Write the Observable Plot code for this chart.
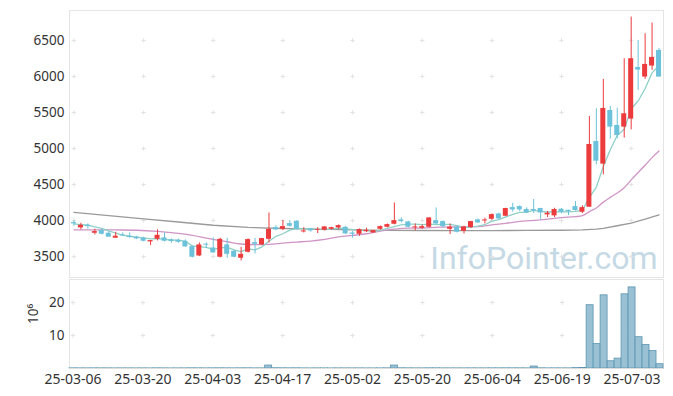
<!DOCTYPE html>
<html><head><meta charset="utf-8">
<script src="https://cdn.jsdelivr.net/npm/d3@7"></script>
<script src="https://cdn.jsdelivr.net/npm/@observablehq/plot@0.6"></script>
<style>
body{margin:0;background:#fff;}
#chart{width:673px;height:396px;overflow:hidden;}
#chart svg{display:block;}
</style></head><body><div id="chart"></div>
<script>
const dates = ["2025-03-06","2025-03-07","2025-03-10","2025-03-11","2025-03-12","2025-03-13","2025-03-14","2025-03-17","2025-03-18","2025-03-19",
"2025-03-20","2025-03-21","2025-03-24","2025-03-25","2025-03-26","2025-03-27","2025-03-28","2025-03-31","2025-04-01","2025-04-02",
"2025-04-03","2025-04-04","2025-04-07","2025-04-08","2025-04-09","2025-04-10","2025-04-11","2025-04-14","2025-04-15","2025-04-16",
"2025-04-17","2025-04-18","2025-04-21","2025-04-22","2025-04-23","2025-04-24","2025-04-25","2025-04-28","2025-04-29","2025-04-30",
"2025-05-02","2025-05-07","2025-05-08","2025-05-09","2025-05-12","2025-05-13","2025-05-14","2025-05-15","2025-05-16","2025-05-19",
"2025-05-20","2025-05-21","2025-05-22","2025-05-23","2025-05-26","2025-05-27","2025-05-28","2025-05-29","2025-05-30","2025-06-02",
"2025-06-04","2025-06-05","2025-06-09","2025-06-10","2025-06-11","2025-06-12","2025-06-13","2025-06-16","2025-06-17","2025-06-18",
"2025-06-19","2025-06-20","2025-06-23","2025-06-24","2025-06-25","2025-06-26","2025-06-27","2025-06-30","2025-07-01","2025-07-02",
"2025-07-03","2025-07-04","2025-07-07","2025-07-08","2025-07-09"];

const open = [3972,3898,3935,3824,3861,3824,3755,3801,3783,3769,
3755,3704,3741,3760,3732,3727,3713,3639,3509,3672,
3620,3491,3662,3574,3477,3560,3694,3662,3740,3902,
3879,3958,3990,3842,3884,3865,3865,3879,3898,3907,
3828,3810,3847,3828,3879,3907,3949,4009,3981,3898,
3893,3907,3999,3986,3879,3907,3852,3903,4009,3995,
4018,4092,4060,4180,4194,4153,4153,4167,4079,4065,
4157,4143,4194,4116,4185,5097,4783,5528,5320,5297,
5408,6125,5991,6144,6361];

const high = [4000,3963,3954,3880,3884,3847,3838,3829,3829,3783,
3769,3722,3871,3829,3746,3741,3732,3648,3690,3690,
3760,3754,3754,3583,3629,3745,3754,3754,4106,3930,
4000,4000,4000,3902,3893,3902,3916,3907,3940,3916,
3847,3884,3893,3861,3926,3953,4245,4037,3990,3953,
3940,4037,4176,3995,3953,3930,3921,3990,4023,4032,
4092,4102,4171,4241,4204,4176,4292,4171,4125,4171,
4167,4143,4264,4204,5445,5551,5959,5584,5560,6246,
6824,6500,6593,6741,6389];

const low = [3921,3871,3880,3801,3801,3769,3755,3778,3755,3736,
3704,3653,3718,3704,3685,3685,3630,3482,3500,3611,
3547,3481,3477,3481,3440,3551,3537,3653,3690,3861,
3861,3907,3870,3828,3838,3819,3856,3865,3879,3805,
3754,3782,3833,3824,3865,3898,3940,3967,3898,3856,
3879,3898,3944,3898,3805,3828,3815,3889,3958,3953,
4004,4014,4055,4116,4125,4097,4097,4009,4042,4042,
4092,4069,4130,4097,4185,4773,4634,5130,5134,5144,
5259,5806,5959,6084,5991];

const close = [3954,3935,3917,3847,3810,3769,3783,3787,3764,3746,
3713,3722,3796,3713,3709,3699,3634,3491,3662,3658,
3551,3740,3532,3491,3532,3736,3671,3750,3879,3870,
3916,3921,3879,3856,3856,3875,3912,3902,3930,3815,
3810,3875,3865,3861,3916,3944,3999,3986,3907,3912,
3916,4037,3953,3916,3907,3838,3912,3986,3967,4009,
4083,4023,4167,4148,4148,4106,4134,4106,4102,4153,
4116,4125,4139,4180,5056,4824,5556,5297,5181,5482,
6246,6088,6167,6264,5991];

// volume in millions of shares
const volume = [0.05,0.04,0.04,0.05,0.04,0.04,0.03,0.04,0.04,0.03,
0.04,0.03,0.05,0.04,0.03,0.03,0.04,0.06,0.05,0.04,
0.05,0.06,0.05,0.04,0.05,0.06,0.04,0.04,0.9,0.08,
0.06,0.05,0.06,0.04,0.03,0.04,0.04,0.03,0.04,0.04,
0.04,0.04,0.03,0.03,0.04,0.05,0.9,0.07,0.05,0.04,
0.04,0.06,0.06,0.04,0.04,0.04,0.04,0.05,0.04,0.04,
0.05,0.05,0.06,0.05,0.05,0.04,0.6,0.06,0.04,0.05,
0.04,0.04,0.12,0.15,19.2,7.4,22.2,2.2,3.0,22.5,
24.6,9.5,7.1,5.3,1.3];

// 20-day moving average (pink), read at these trading-day positions
const ma20Pos = [0,3,6,9,12,15,17,19,22,24,26,28,30,32,34,36,38,40,42,44,46,48,50,52,54,56,58,60,62,64,66,68,70,72,73,74,75,76,77,78,79,80,81,82,83,84];
const ma20Val = [3872,3872,3870,3866,3850,3822,3795,3755,3706,3675,3667,3671,3688,3702,3716,3739,3773,3794,3817,3855,3882,3895,3897,3906,3912,3910,3916,3939,3962,3988,4003,4019,4041,4054,4067,4125,4174,4256,4322,4383,4456,4564,4668,4768,4874,4966];

// long moving average (gray), read at these positions
const maLongPos = [0,5,10,15,20,25,30,35,40,45,50,55,60,65,70,73,75,76,78,80,82,84];
const maLongVal = [4113,4068,4023,3980,3935,3905,3890,3882,3872,3865,3862,3861,3861,3863,3866,3870,3880,3892,3928,3965,4020,4080];

const priceTicks = [3500,4000,4500,5000,5500,6000,6500];
const volTicks = [10,20];
const xTickPos = [0,10,20,30,40,50,60,70,80];

const UP = "#ec3b3d", DOWN = "#6cc2da";
const FONT = "'Noto Sans', sans-serif";

const candles = dates.map((d,i)=>({date:d, open:open[i], high:high[i], low:low[i], close:close[i], vol:volume[i]}));
const ma20 = ma20Pos.map((p,i)=>({date:dates[p], v:ma20Val[i]}));
const maLong = maLongPos.map((p,i)=>({date:dates[p], v:maLongVal[i]}));
const xTickDates = xTickPos.map(p=>dates[p]);
const gridPrice = xTickDates.flatMap(d=>priceTicks.map(v=>({date:d, v})));
const gridVol = xTickDates.flatMap(d=>volTicks.map(v=>({date:d, v})));
const col = d => d.close >= d.open ? UP : DOWN;

const price = Plot.plot({
  width: 673, height: 278,
  marginLeft: 69, marginRight: 10, marginTop: 10, marginBottom: 1,
  style: {fontFamily: FONT, fontSize: "13.5px", color: "#333", background: "white"},
  x: {type: "band", domain: dates, padding: 0.28, axis: null},
  y: {domain: [3210, 6915], ticks: priceTicks, tickFormat: d => String(d), tickSize: 0, tickPadding: 5, label: null},
  marks: [
    Plot.frame({stroke: "#e4e4e4"}),
    Plot.text(["InfoPointer.com"], {text: d=>d, frameAnchor: "bottom-right", dx: -6, dy: -9, fontSize: 32, fill: "#c5d9e5", fontFamily: "Roboto", fontWeight: 400}),
    Plot.dot(gridPrice, {x: "date", y: "v", symbol: "plus", r: 1.5, stroke: "#e2e2e2", strokeWidth: 1}),
    Plot.line(maLong, {x: "date", y: "v", stroke: "#9a9a9a", strokeWidth: 1.3}),
    Plot.line(ma20, {x: "date", y: "v", stroke: "#d095c6", strokeWidth: 1.3, curve: "monotone-x"}),
    Plot.lineY(candles, Plot.windowY({k: 5, anchor: "end"}, {x: "date", y: "close", stroke: "#8fd0c7", strokeWidth: 1.3})),
    Plot.ruleX(candles, {x: "date", y1: "low", y2: "high", stroke: col, strokeWidth: 1}),
    Plot.barY(candles, {x: "date", y1: "open", y2: "close", fill: col})
  ]
});

const vol = Plot.plot({
  width: 673, height: 118,
  marginLeft: 69, marginRight: 10, marginTop: 1, marginBottom: 28,
  style: {fontFamily: FONT, fontSize: "13.5px", color: "#333", background: "white"},
  x: {type: "band", domain: dates, padding: 0, ticks: xTickDates, tickFormat: d => d.slice(2), tickSize: 0, tickPadding: 6, label: null},
  y: {domain: [0, 27], ticks: volTicks, tickSize: 0, tickPadding: 5, label: null},
  marks: [
    Plot.frame({stroke: "#e4e4e4"}),
    Plot.dot(gridVol, {x: "date", y: "v", symbol: "plus", r: 1.5, stroke: "#e2e2e2", strokeWidth: 1}),
    Plot.barY(candles, {x: "date", y: "vol", fill: "#93bed1", fillOpacity: 0.95, stroke: "#5b95b2", strokeWidth: 0.8}),
    Plot.ruleY([0], {stroke: "#dddddd"}),
    Plot.text(["10⁶"], {text: d=>d, frameAnchor: "left", dx: -36, rotate: -90, fontSize: 13.5, fill: "#333"})
  ]
});

const el = document.getElementById("chart");
el.appendChild(price);
el.appendChild(vol);
el.querySelectorAll("g[aria-label='x-axis tick label'] text, g[aria-label='x-axis tick label']").forEach(n => n.setAttribute("font-size", "14"));
</script>
</body></html>
